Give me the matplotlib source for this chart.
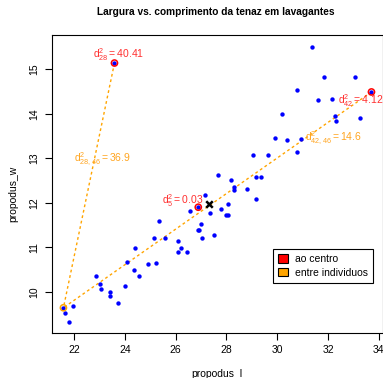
import matplotlib
matplotlib.use('Agg')
import matplotlib.pyplot as plt
from matplotlib.patches import Patch

plt.rcParams['font.family'] = ['Liberation Sans', 'DejaVu Sans']
plt.rcParams['mathtext.fontset'] = 'custom'
plt.rcParams['mathtext.rm'] = 'Liberation Sans'
plt.rcParams['mathtext.it'] = 'Liberation Sans'

# propodus length / width
propodus_l = [21.58, 21.66, 21.80, 21.96, 22.88, 23.01, 23.04, 23.40, 23.42, 23.71,
              24.01, 24.09, 24.36, 24.40, 24.55, 24.90, 25.14, 25.24, 25.35, 25.57,
              26.09, 26.09, 26.22, 26.44, 26.57, 26.89, 27.14, 27.37, 26.99, 26.87,
              26.93, 27.03, 27.52, 27.77, 27.98, 28.05, 28.05, 28.30, 28.30, 28.80,
              29.16, 27.67, 28.17, 29.18, 29.35, 29.06, 29.64, 30.78, 29.90, 30.39,
              30.93, 30.19, 32.26, 32.33, 33.27, 31.62, 32.17, 30.79, 33.71, 31.86,
              33.05, 31.38, 23.59]
propodus_w = [9.64, 9.53, 9.33, 9.68, 10.35, 10.17, 10.06, 9.99, 9.90, 9.75,
              10.12, 10.67, 10.50, 10.99, 10.36, 10.62, 11.21, 10.64, 11.58, 11.21,
              11.13, 10.89, 10.98, 10.89, 11.82, 11.90, 12.17, 11.78, 11.53, 11.38,
              11.38, 11.20, 11.28, 11.85, 11.73, 11.73, 11.97, 12.28, 12.36, 12.30,
              12.09, 12.62, 12.52, 12.59, 12.58, 13.08, 13.08, 13.13, 13.46, 13.42,
              13.43, 13.99, 13.96, 13.84, 13.91, 14.30, 14.33, 14.53, 14.49, 14.82,
              14.83, 15.51, 15.14]

centro = (27.30, 11.98)

# indices into the lists above, with their labels
idx_46 = 0
idx_5 = 25
idx_42 = 58
idx_28 = 62
d2_centro = {idx_28: '40.41', idx_42: '4.12', idx_5: '0.03'}
d2_pares = {(idx_28, idx_46): ('28,46', '36.9'), (idx_42, idx_46): ('42,46', '14.6')}
nomes = {idx_28: '28', idx_42: '42', idx_5: '5'}

fig = plt.figure(figsize=(3.83, 3.78), dpi=100)
ax = fig.add_axes([52 / 383, 1 - 332.7 / 378, 331.4 / 383, 297.7 / 378])

ax.scatter(propodus_l, propodus_w, s=10, color='blue', zorder=3, linewidths=0)

for (i, j), (nome, val) in d2_pares.items():
    ax.plot([propodus_l[i], propodus_l[j]], [propodus_w[i], propodus_w[j]],
            color='orange', lw=1, ls=(0, (2, 2)), zorder=2)
ax.scatter([propodus_l[idx_46]], [propodus_w[idx_46]], s=20, facecolors='none',
           edgecolors='orange', linewidths=1.1, zorder=4)
for i in d2_centro:
    ax.scatter([propodus_l[i]], [propodus_w[i]], s=20, facecolors='none',
               edgecolors='red', linewidths=1.1, zorder=4)

ax.scatter([centro[0]], [centro[1]], marker='x', s=22, color='black', linewidths=1.8, zorder=5)

red = '#ff3030'
orange = '#ffa520'
fs = 7.5
ax.text(propodus_l[idx_28] + 0.18, propodus_w[idx_28] + 0.2,
        r'$\mathregular{d^2_{%s}=%s}$' % (nomes[idx_28], d2_centro[idx_28]),
        color=red, fontsize=fs, ha='center', va='center')
ax.text(33.3, 14.30,
        r'$\mathregular{d^2_{%s}=%s}$' % (nomes[idx_42], d2_centro[idx_42]),
        color=red, fontsize=fs, ha='center', va='center')
ax.text(26.29, 12.04,
        r'$\mathregular{d^2_{%s}=%s}$' % (nomes[idx_5], d2_centro[idx_5]),
        color=red, fontsize=fs, ha='center', va='center')
pos_pares = {(idx_28, idx_46): (22.0, 12.98), (idx_42, idx_46): (31.1, 13.45)}
for par, (nome, val) in d2_pares.items():
    ax.text(*pos_pares[par], r'$\mathregular{d^2_{%s}=%s}$' % (nome, val),
            color=orange, fontsize=fs, ha='left', va='center')

ax.set_xlim(21.13, 34.18)
ax.set_ylim(9.08, 15.77)
ax.set_xticks([22, 24, 26, 28, 30, 32, 34])
ax.set_yticks([10, 11, 12, 13, 14, 15])
ax.tick_params(direction='out', length=5, width=0.8, labelsize=fs, pad=4)
for lab in ax.get_yticklabels():
    lab.set_rotation(90)
    lab.set_va('center')
for sp in ax.spines.values():
    sp.set_linewidth(0.8)

fig.text(216 / 383, 1 - 12 / 378, 'Largura vs. comprimento da tenaz em lavagantes',
         ha='center', va='center', fontsize=7.3, fontweight='bold')
fig.text(217 / 383, 1 - 374 / 378, 'propodus_l', ha='center', va='center', fontsize=fs)
fig.text(13 / 383, 1 - 194 / 378, 'propodus_w', ha='center', va='center',
         fontsize=fs, rotation=90)

handles = [Patch(facecolor='red', edgecolor='black', lw=0.8),
           Patch(facecolor='orange', edgecolor='black', lw=0.8)]
leg = ax.legend(handles, ['ao centro', 'entre individuos'], loc='upper right',
                bbox_to_anchor=(0.9695, 0.282), fontsize=fs, fancybox=False,
                framealpha=1, edgecolor='black', borderaxespad=0,
                handlelength=0.9, handleheight=0.9, handletextpad=0.7,
                labelspacing=0.35, borderpad=0.5)
leg.get_frame().set_linewidth(0.8)

fig.savefig('out.png', dpi=100)
